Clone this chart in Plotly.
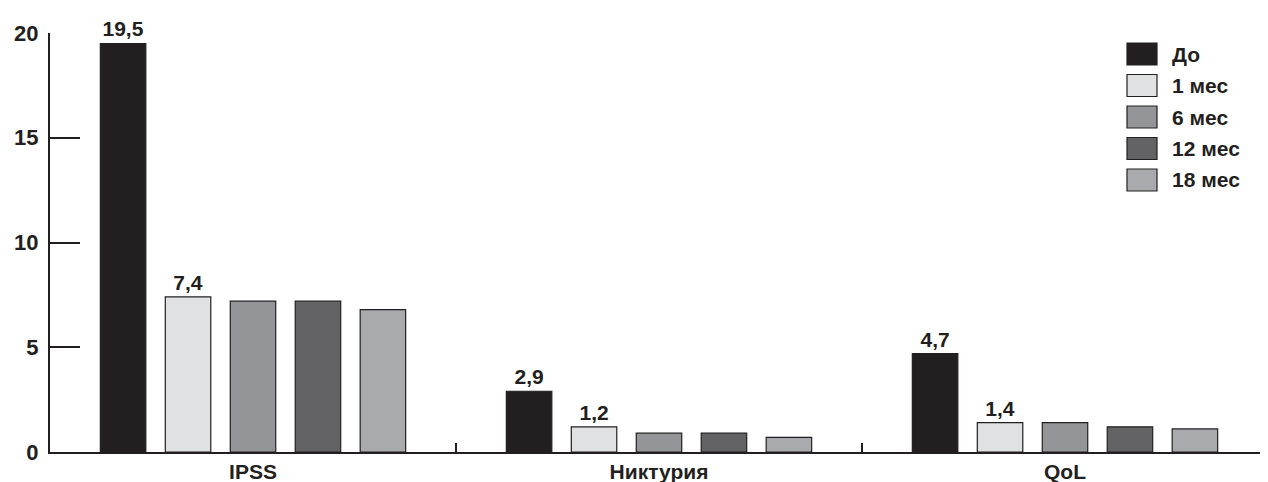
import plotly.graph_objects as go

categories = ["IPSS", "Никтурия", "QoL"]
series_names = ["До", "1 мес", "6 мес", "12 мес", "18 мес"]
values_do = [19.5, 2.9, 4.7]
values_1m = [7.4, 1.2, 1.4]
values_6m = [7.2, 0.9, 1.4]
values_12m = [7.2, 0.9, 1.2]
values_18m = [6.8, 0.7, 1.1]
series_values = [values_do, values_1m, values_6m, values_12m, values_18m]
labelled_series = ["До", "1 мес"]
y_ticks = [0, 5, 10, 15, 20]

colors = ["#231f20", "#e0e1e3", "#949598", "#636365", "#a9aaad"]
FONT = "Liberation Sans, Arial, sans-serif"
INK = "#231f20"

fig = go.Figure()
for name, vals, col in zip(series_names, series_values, colors):
    texts = [f"{v:.1f}".replace(".", ",") for v in vals] if name in labelled_series else None
    fig.add_trace(go.Bar(
        x=categories, y=vals, name=name,
        marker=dict(color=col, line=dict(color=INK, width=1.2)),
        text=texts, textposition="outside" if texts else "none",
        textfont=dict(family=FONT, size=21, color=INK, weight="bold"),
        cliponaxis=False, showlegend=False,
    ))

# page has an 8px body margin; figure is sized so plot area lands where the reference has it
OFF = 8
W, H = 1268 - OFF, 482 - OFF
ml, mr, mt, mb = 42, 0, 25, 30
pw, ph = W - ml - mr, H - mt - mb


def px_x(page_x):
    return (page_x - OFF - ml) / pw


def px_y(page_y):
    return (H - mb - (page_y - OFF)) / ph


row0, step = 54, 31.5
for i, (name, col) in enumerate(zip(series_names, colors)):
    cy = row0 + i * step
    fig.add_shape(type="rect", xref="paper", yref="paper",
                  x0=px_x(1127), x1=px_x(1157), y0=px_y(cy + 11), y1=px_y(cy - 11),
                  fillcolor=col, line=dict(color=INK, width=1.2))
    fig.add_annotation(xref="paper", yref="paper", x=px_x(1170), y=px_y(cy),
                       text=f"<b>{name}</b>", showarrow=False, xanchor="left", yanchor="middle",
                       font=dict(family=FONT, size=21, color=INK))

fig.update_layout(
    width=W, height=H,
    margin=dict(l=ml, r=mr, t=mt, b=mb),
    plot_bgcolor="white", paper_bgcolor="white",
    barmode="group", bargap=0.2, bargroupgap=0.3,
    showlegend=False,
    font=dict(family=FONT, color=INK),
    xaxis=dict(
        showline=True, linecolor=INK, linewidth=2,
        ticks="inside", tickson="boundaries", ticklen=9, tickwidth=2, tickcolor=INK,
        tickfont=dict(family=FONT, size=21, color=INK, weight="bold"),
        showgrid=False, zeroline=False, fixedrange=True, automargin=False,
    ),
    yaxis=dict(
        range=[0, 20], tickvals=y_ticks, ticktext=[str(t) for t in y_ticks],
        showline=True, linecolor=INK, linewidth=2,
        ticks="inside", ticklen=30, tickwidth=2, tickcolor=INK,
        ticklabelstandoff=5,
        tickfont=dict(family=FONT, size=22, color=INK, weight="bold"),
        showgrid=False, zeroline=False, automargin=False,
    ),
)

fig.write_html("out.html")
